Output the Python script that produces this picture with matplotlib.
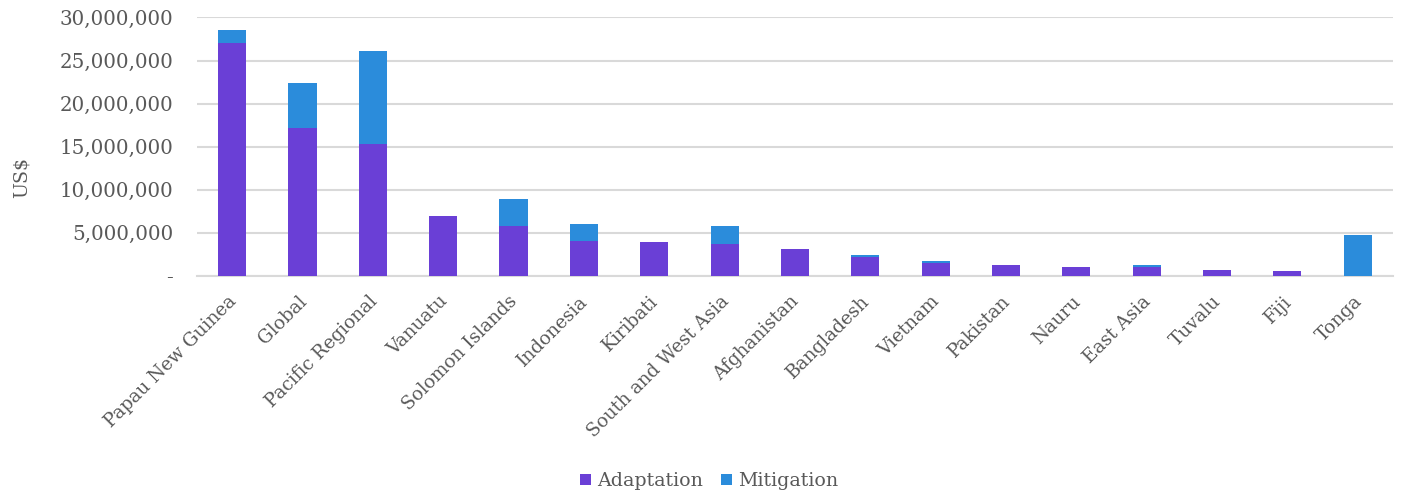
import matplotlib
matplotlib.use("Agg")
import matplotlib.pyplot as plt
import matplotlib.transforms as mtransforms
import numpy as np

categories = ["Papau New Guinea", "Global", "Pacific Regional", "Vanuatu", "Solomon Islands",
              "Indonesia", "Kiribati", "South and West Asia", "Afghanistan", "Bangladesh",
              "Vietnam", "Pakistan", "Nauru", "East Asia", "Tuvalu", "Fiji", "Tonga"]
adaptation = [27.0e6, 17.2e6, 15.3e6, 6.9e6, 5.74e6, 4.03e6, 3.88e6, 3.72e6, 3.1e6, 2.17e6,
              1.43e6, 1.28e6, 1.05e6, 0.97e6, 0.70e6, 0.58e6, 0.0]
mitigation = [1.6e6, 5.2e6, 10.8e6, 0.0, 3.16e6, 1.94e6, 0.0, 2.02e6, 0.0, 0.27e6,
              0.31e6, 0.0, 0.0, 0.31e6, 0.0, 0.0, 4.72e6]
yticks = [0, 5e6, 10e6, 15e6, 20e6, 25e6, 30e6]
ytick_labels = ["-", "5,000,000", "10,000,000", "15,000,000", "20,000,000", "25,000,000", "30,000,000"]

plt.rcParams['font.family'] = ['DejaVu Serif']
txt = "#595959"
c_ad = "#6A3FD6"
c_mi = "#2B8CDB"

fig = plt.figure(figsize=(14.02, 4.94), dpi=100)
ax = fig.add_axes([0.1405, 0.4419, 0.853, 0.5227])
x = np.arange(len(categories))
ax.bar(x, adaptation, width=0.4, color=c_ad, label="Adaptation", zorder=3)
ax.bar(x, mitigation, width=0.4, bottom=adaptation, color=c_mi, label="Mitigation", zorder=3)
ax.set_xlim(-0.5, len(categories) - 0.5)
ax.set_ylim(0, 30e6)
ax.set_yticks(yticks)
ax.set_yticklabels(ytick_labels, color=txt, fontsize=14.3)
ax.set_xticks(x)
ax.set_xticklabels(categories, rotation=45, ha="right", rotation_mode="anchor", color=txt, fontsize=13.3)
ax.tick_params(axis="y", length=0, pad=17)
ax.tick_params(axis="x", length=0, pad=12)
offset = mtransforms.ScaledTranslation(-5 / 100, 0, fig.dpi_scale_trans)
for lab in ax.get_xticklabels():
    lab.set_transform(lab.get_transform() + offset)
ax.yaxis.grid(True, color="#D9D9D9", linewidth=1.5, zorder=0)
for s in ["top", "right", "left"]:
    ax.spines[s].set_visible(False)
ax.spines["bottom"].set_color("#D9D9D9")
ax.spines["bottom"].set_linewidth(1.5)
ax.set_ylabel("US$", color=txt, fontsize=13.7)
ax.yaxis.set_label_coords(-0.1395, 0.382)
leg = fig.legend(loc="center", bbox_to_anchor=(0.5057, 0.026), ncol=2, frameon=False,
                 fontsize=13.7, handlelength=0.58, handleheight=0.58, handletextpad=0.3, columnspacing=0.95)
for t in leg.get_texts():
    t.set_color(txt)
fig.savefig("out.png", dpi=100)
